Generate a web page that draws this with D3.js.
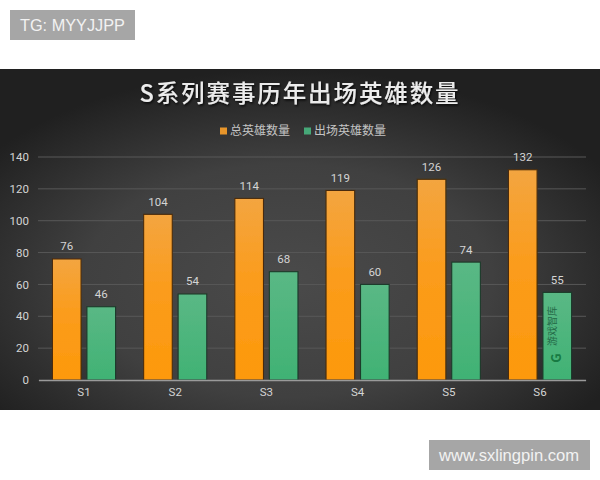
<!DOCTYPE html>
<html><head><meta charset="utf-8">
<script src="https://cdnjs.cloudflare.com/ajax/libs/d3/7.8.5/d3.min.js"></script>
<style>html,body{margin:0;padding:0;background:#fff}svg{display:block}</style>
</head><body><svg id="c" width="600" height="480"></svg>
<script>
const categories = ["S1","S2","S3","S4","S5","S6"];
const seriesNames = ["总英雄数量","出场英雄数量"];
const totalHeroes = [76,104,114,119,126,132];
const usedHeroes = [46,54,68,60,74,55];
const yTicks = [0,20,40,60,80,100,120,140];
const colors = {"总英雄数量":"orange","出场英雄数量":"green"};
const titleText = "S系列赛事历年出场英雄数量";
const cjk = "'Noto Sans CJK SC','Noto Sans',sans-serif";
const latin = "Roboto,'Noto Sans',sans-serif";

const svg = d3.select("#c");
const defs = svg.append("defs");
const bg = defs.append("radialGradient").attr("id","bg").attr("cx","48%").attr("cy","62%").attr("r","62%");
[[0,"#4a4a4a"],[0.55,"#404040"],[1,"#202020"]].forEach(s=>bg.append("stop").attr("offset",s[0]).attr("stop-color",s[1]));
const og = defs.append("linearGradient").attr("id","orange").attr("x1",0).attr("x2",0).attr("y1",0).attr("y2",1);
[[0,"#f3a540"],[0.45,"#fb9c1c"],[1,"#fd990b"]].forEach(s=>og.append("stop").attr("offset",s[0]).attr("stop-color",s[1]));
const gg = defs.append("linearGradient").attr("id","green").attr("x1",0).attr("x2",0).attr("y1",0).attr("y2",1);
[[0,"#5ab885"],[1,"#40b274"]].forEach(s=>gg.append("stop").attr("offset",s[0]).attr("stop-color",s[1]));
const ts = defs.append("filter").attr("id","ts").attr("x","-10%").attr("y","-30%").attr("width","120%").attr("height","170%");
ts.append("feDropShadow").attr("dx",1).attr("dy",1.5).attr("stdDeviation",1).attr("flood-color","#000").attr("flood-opacity",0.8);
const soft = defs.append("filter").attr("id","soft");
soft.append("feGaussianBlur").attr("stdDeviation",0.45);

svg.append("rect").attr("x",0).attr("y",69).attr("width",600).attr("height",341).attr("fill","url(#bg)");

const x0 = d3.scaleBand().domain(categories).range([38.4,585.6]);
const x1 = d3.scaleBand().domain(seriesNames).range([0,x0.bandwidth()]).paddingInner(0.17).paddingOuter(0.407);
const y = d3.scaleLinear().domain([0,140]).range([380,157]);

const grid = svg.append("g");
grid.selectAll("line").data(yTicks.filter(d=>d>0)).join("line")
  .attr("x1",38).attr("x2",586).attr("y1",d=>y(d)).attr("y2",d=>y(d))
  .attr("stroke","#585858").attr("stroke-width",1);

const rows = categories.map((c,i)=>[[c,seriesNames[0],totalHeroes[i]],[c,seriesNames[1],usedHeroes[i]]]).flat();
const g = svg.append("g").attr("filter","url(#soft)");
g.selectAll("rect").data(rows).join("rect")
  .attr("x",d=>x0(d[0])+x1(d[1]))
  .attr("width",x1.bandwidth())
  .attr("y",d=>y(d[2]))
  .attr("height",d=>y(0)-y(d[2]))
  .attr("fill",d=>`url(#${colors[d[1]]})`)
  .attr("stroke",d=>colors[d[1]]==="orange"?"#4a2c0a":"#1c3a2a")
  .attr("stroke-width",1.1);

svg.append("g").selectAll("text").data(rows).join("text")
  .attr("x",d=>x0(d[0])+x1(d[1])+x1.bandwidth()/2)
  .attr("y",d=>y(d[2])-8.5)
  .attr("text-anchor","middle")
  .attr("font-family",latin).attr("font-size",11.5).attr("fill","#d4d4d4")
  .text(d=>d[2]);

const yAxis = svg.append("g").attr("transform","translate(38,0)")
  .call(d3.axisLeft(y).tickValues(yTicks).tickSize(0).tickPadding(9));
yAxis.select(".domain").remove();
yAxis.selectAll("text").attr("font-family",latin).attr("font-size",11.5).attr("fill","#d4d4d4");
const xAxis = svg.append("g").attr("transform","translate(0,380)")
  .call(d3.axisBottom(x0).tickSize(0).tickPadding(8));
xAxis.select(".domain").attr("stroke","#9a9a9a").attr("stroke-width",1.5);
xAxis.selectAll("text").attr("font-family",latin).attr("font-size",11.5).attr("fill","#d4d4d4");

svg.append("text").attr("x",300).attr("y",102).attr("text-anchor","middle")
  .attr("font-family",cjk).attr("font-size",23.5).attr("font-weight",500)
  .attr("letter-spacing",1.9).attr("fill","#ececec").attr("filter","url(#ts)").text(titleText);

const legendX = [220,304];
const leg = svg.append("g").selectAll("g").data(seriesNames).join("g")
  .attr("transform",(d,i)=>`translate(${legendX[i]},131)`);
leg.append("rect").attr("y",-3.5).attr("width",7).attr("height",7).attr("fill",d=>colors[d]==="orange"?"#e8952a":"#46a878");
leg.append("text").attr("x",10).attr("dy","0.36em").attr("font-family",cjk).attr("font-size",12)
  .attr("fill","#c4c4c4").text(d=>d);

svg.append("text").attr("transform","translate(556,346) rotate(-90)")
  .attr("font-family",cjk).attr("font-size",10).attr("fill","#256b49").text("游戏智库");
svg.append("text").attr("transform","translate(561,358) rotate(-90)")
  .attr("font-family",cjk).attr("font-size",13).attr("font-weight",700).attr("fill","#177a42").attr("text-anchor","middle").text("G");

function badge(x,yy,w,h,t,tx,fs){
  svg.append("rect").attr("x",x).attr("y",yy).attr("width",w).attr("height",h).attr("fill","#a6a6a6");
  svg.append("text").attr("x",tx).attr("y",yy+h/2).attr("dy","0.36em")
    .attr("font-family","'Liberation Sans',Arial,sans-serif").attr("font-size",fs).attr("fill","#f2f2f2").text(t);
}
badge(10,10,125,30,"TG: MYYJJPP",20,16.3);
badge(429,440,161,30,"www.sxlingpin.com",439,16.6);
</script></body></html>
